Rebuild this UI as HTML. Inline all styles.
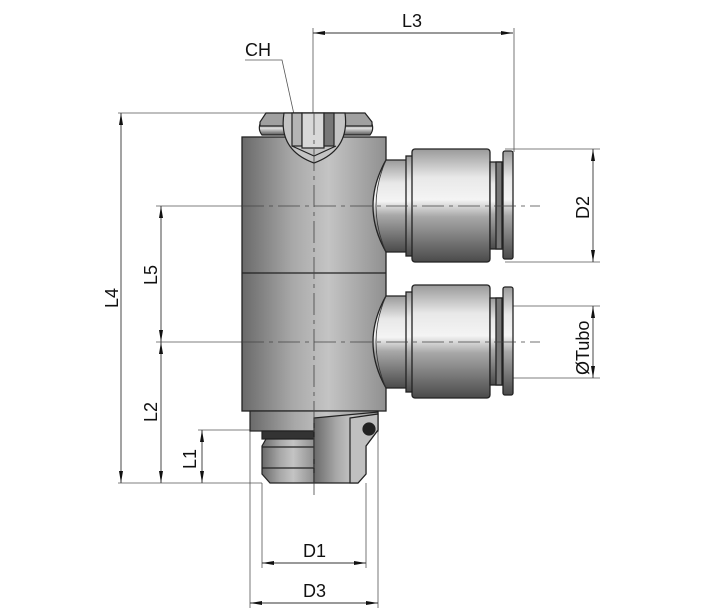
<!DOCTYPE html>
<html><head><meta charset="utf-8"><style>
html,body{margin:0;padding:0;background:#fff}
svg{display:block}
text{font-family:"Liberation Sans",sans-serif;font-size:18px;fill:#111}
</style></head><body>
<svg width="703" height="613" viewBox="0 0 703 613" xmlns="http://www.w3.org/2000/svg">
<defs>
<linearGradient id="gx" x1="0" x2="1" y1="0" y2="0">
<stop offset="0" stop-color="#6a6a6a"/><stop offset="0.35" stop-color="#a8a8a8"/><stop offset="0.6" stop-color="#c4c4c4"/><stop offset="1" stop-color="#909090"/>
</linearGradient>
<linearGradient id="gy" x1="0" x2="0" y1="0" y2="1">
<stop offset="0" stop-color="#9a9a9a"/><stop offset="0.25" stop-color="#e8e8e8"/><stop offset="0.45" stop-color="#f4f4f4"/><stop offset="0.6" stop-color="#a8a8a8"/><stop offset="1" stop-color="#4a4a4a"/>
</linearGradient>
<linearGradient id="gy2" x1="0" x2="0" y1="0" y2="1">
<stop offset="0" stop-color="#888"/><stop offset="0.4" stop-color="#ddd"/><stop offset="1" stop-color="#555"/>
</linearGradient>
<marker id="a" viewBox="0 0 12 4" refX="12" refY="2" markerWidth="12" markerHeight="4" orient="auto-start-reverse" markerUnits="userSpaceOnUse"><path d="M0,0L12,2L0,4z" fill="#111"/></marker>
</defs>

<g stroke="#555" stroke-width="0.8" fill="none">
<line x1="118" y1="113" x2="320" y2="113"/>
<line x1="118" y1="483" x2="262" y2="483"/>
<line x1="198" y1="430" x2="262" y2="430"/>
<line x1="313" y1="28" x2="313" y2="113"/>
<line x1="514" y1="28" x2="514" y2="152"/>
<line x1="505" y1="149" x2="600" y2="149"/>
<line x1="505" y1="262" x2="600" y2="262"/>
<line x1="505" y1="306" x2="600" y2="306"/>
<line x1="505" y1="378" x2="600" y2="378"/>
<line x1="262" y1="483" x2="262" y2="568"/>
<line x1="366" y1="483" x2="366" y2="568"/>
<line x1="250" y1="430" x2="250" y2="608"/>
<line x1="378" y1="430" x2="378" y2="608"/>
<line x1="156" y1="206" x2="242" y2="206"/>
<line x1="156" y1="342" x2="242" y2="342"/>
<polyline points="245,60 282,60 297,128"/>
</g>

<g stroke="#333" stroke-width="0.9" fill="none">
<line x1="313" y1="33" x2="513" y2="33" marker-start="url(#a)" marker-end="url(#a)"/>
<line x1="121" y1="113" x2="121" y2="483" marker-start="url(#a)" marker-end="url(#a)"/>
<line x1="161" y1="206" x2="161" y2="342" marker-start="url(#a)" marker-end="url(#a)"/>
<line x1="161" y1="342" x2="161" y2="483" marker-start="url(#a)" marker-end="url(#a)"/>
<line x1="202" y1="430" x2="202" y2="483" marker-start="url(#a)" marker-end="url(#a)"/>
<line x1="262" y1="563" x2="366" y2="563" marker-start="url(#a)" marker-end="url(#a)"/>
<line x1="250" y1="603" x2="378" y2="603" marker-start="url(#a)" marker-end="url(#a)"/>
<line x1="593" y1="149" x2="593" y2="262" marker-start="url(#a)" marker-end="url(#a)"/>
<line x1="593" y1="306" x2="593" y2="378" marker-start="url(#a)" marker-end="url(#a)"/>
</g>

<g stroke="#222" stroke-width="1.2">
<path d="M260,124 Q258,130 262,135 L370,135 Q374,130 372,124 Z" fill="url(#gy2)"/>
<path d="M266,113 L365,113 L372,122 L372,126 L260,126 L260,122 Z" fill="#a0a0a0"/>
</g>

<rect x="242" y="137" width="144" height="274" fill="url(#gx)" stroke="#222" stroke-width="1.3"/>
<line x1="242" y1="273" x2="386" y2="273" stroke="#222" stroke-width="1.3"/>
<g stroke="#222" stroke-width="1.2">
<path d="M284,113 L345,113 Q350,150 314,163 Q278,150 284,113 Z" fill="#c4c4c4"/>
<rect x="292" y="113" width="10" height="33" fill="#b4b4b4"/>
<rect x="302" y="113" width="22" height="35" fill="#d8d8d8"/>
<rect x="324" y="113" width="10" height="33" fill="#777"/>
<path d="M292,146 L314,156 L336,146" fill="none"/>
</g>

<g id="c1" stroke="#222" stroke-width="1.3">
<path d="M386,160 Q360,206 386,252 L408,252 L408,160 Z" fill="url(#gy)"/>
<path d="M386,160 Q366,206 386,252" fill="none" stroke="#333" stroke-width="0.8"/>
<rect x="406" y="156" width="8" height="100" fill="url(#gy)"/>
<rect x="412" y="149" width="78" height="113" rx="3" fill="url(#gy)"/>
<rect x="490" y="162" width="14" height="87" fill="url(#gy)"/>
<rect x="496" y="162" width="6" height="87" fill="#777"/>
<rect x="503" y="151" width="10" height="108" rx="2" fill="url(#gy)"/>
</g>
<use href="#c1" transform="translate(0,136)"/>

<g stroke="#222" stroke-width="1.2">
<rect x="250" y="411" width="128" height="20" fill="url(#gx)"/>
<rect x="262" y="431" width="52" height="8" fill="#333"/>
<path d="M266,439 L314,439 L314,483 L270,483 L262,474 L262,446 Z" fill="url(#gx)"/>
<line x1="262" y1="447" x2="314" y2="447"/>
<line x1="262" y1="468" x2="314" y2="468"/>
<path d="M314,418 L378,412 L378,430 L366,446 L366,474 L358,483 L314,483 Z" fill="url(#gx)"/>
<path d="M350,418 L378,414 L378,430 L366,446 L366,474 L358,483 L350,483 Z" fill="#c0c0c0"/>
<circle cx="369" cy="429" r="6" fill="#222"/>
</g>

<g stroke="#444" stroke-width="0.8" fill="none" stroke-dasharray="22,5,4,5">
<line x1="314" y1="113" x2="314" y2="500"/>
<line x1="242" y1="206" x2="540" y2="206"/>
<line x1="242" y1="342" x2="540" y2="342"/>
</g>

<text x="402" y="27">L3</text>
<text x="245" y="56">CH</text>
<text x="303" y="557">D1</text>
<text x="303" y="597">D3</text>
<text transform="translate(118,308) rotate(-90)">L4</text>
<text transform="translate(157,285) rotate(-90)">L5</text>
<text transform="translate(157,422) rotate(-90)">L2</text>
<text transform="translate(196,469) rotate(-90)">L1</text>
<text transform="translate(589,219) rotate(-90)">D2</text>
<text transform="translate(589,375) rotate(-90)">ØTubo</text>
</svg>
</body></html>
